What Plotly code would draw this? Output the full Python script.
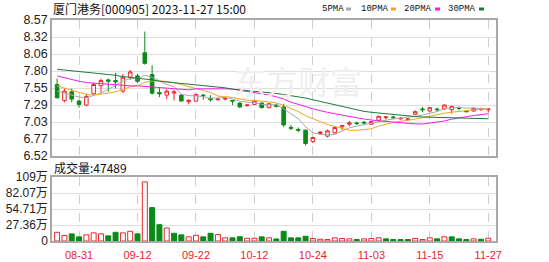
import plotly.graph_objects as go

# ---------------- data ----------------
dates = ["08-28", "08-29", "08-30", "08-31", "09-01", "09-04", "09-05", "09-06", "09-07", "09-08",
         "09-11", "09-12", "09-13", "09-14", "09-15", "09-18", "09-19", "09-20", "09-21", "09-22",
         "09-25", "09-26", "09-27", "09-28", "10-09", "10-10", "10-11", "10-12", "10-13", "10-16",
         "10-17", "10-18", "10-19", "10-20", "10-23", "10-24", "10-25", "10-26", "10-27", "10-30",
         "10-31", "11-01", "11-02", "11-03", "11-06", "11-07", "11-08", "11-09", "11-10", "11-13",
         "11-14", "11-15", "11-16", "11-17", "11-20", "11-21", "11-22", "11-23", "11-24", "11-27"]

opens = [7.60, 7.36, 7.49, 7.35, 7.29, 7.46, 7.58, 7.67, 7.66, 7.50,
         7.71, 7.73, 8.08, 7.75, 7.48, 7.44, 7.47, 7.44, 7.34, 7.35,
         7.44, 7.39, 7.37, 7.38, 7.36, 7.32, 7.28, 7.30, 7.32, 7.25,
         7.29, 7.26, 6.95, 6.92, 6.91, 6.74, 6.86, 6.82, 6.87, 6.96,
         7.00, 7.02, 7.03, 7.00, 7.06, 7.10, 7.11, 7.08, 7.07, 7.15,
         7.23, 7.20, 7.23, 7.23, 7.22, 7.25, 7.20, 7.20, 7.22, 7.22]
highs = [7.69, 7.54, 7.54, 7.37, 7.46, 7.63, 7.69, 7.69, 7.78, 7.76,
         7.82, 7.76, 8.40, 7.89, 7.56, 7.53, 7.52, 7.45, 7.38, 7.46,
         7.46, 7.44, 7.39, 7.40, 7.36, 7.33, 7.30, 7.36, 7.33, 7.32,
         7.31, 7.31, 6.99, 6.95, 6.92, 6.81, 6.90, 6.92, 6.97, 6.98,
         7.05, 7.04, 7.05, 7.05, 7.13, 7.11, 7.13, 7.11, 7.09, 7.21,
         7.26, 7.26, 7.25, 7.30, 7.28, 7.27, 7.21, 7.25, 7.25, 7.24]
lows = [7.39, 7.33, 7.33, 7.25, 7.27, 7.45, 7.47, 7.49, 7.54, 7.47,
        7.67, 7.62, 7.90, 7.45, 7.41, 7.38, 7.36, 7.35, 7.30, 7.34,
        7.37, 7.34, 7.36, 7.36, 7.29, 7.25, 7.27, 7.29, 7.24, 7.24,
        7.25, 6.96, 6.91, 6.88, 6.68, 6.72, 6.84, 6.80, 6.85, 6.91,
        6.97, 6.99, 7.00, 6.99, 7.05, 7.07, 7.08, 7.07, 7.05, 7.14,
        7.18, 7.19, 7.19, 7.22, 7.16, 7.21, 7.18, 7.19, 7.20, 7.18]
closes = [7.40, 7.50, 7.38, 7.30, 7.42, 7.60, 7.66, 7.65, 7.64, 7.71,
          7.79, 7.65, 7.92, 7.47, 7.46, 7.50, 7.49, 7.35, 7.36, 7.45,
          7.43, 7.37, 7.38, 7.39, 7.35, 7.26, 7.29, 7.35, 7.25, 7.31,
          7.27, 6.99, 6.94, 6.91, 6.71, 6.80, 6.88, 6.90, 6.95, 6.98,
          7.02, 7.01, 7.02, 7.04, 7.12, 7.11, 7.10, 7.09, 7.08, 7.19,
          7.22, 7.25, 7.22, 7.29, 7.27, 7.24, 7.19, 7.24, 7.23, 7.23]
prev_close = 7.38  # close of the day before the first bar (estimated)

# volume in 手
volumes = [149000, 93000, 122000, 71000, 105000, 139000, 122000, 88000, 149000, 139000,
           166000, 122000, 1010000, 571000, 279000, 223000, 132000, 105000, 71000, 98000,
           71000, 132000, 110000, 54000, 54000, 73000, 47000, 47000, 71000, 54000,
           35000, 166000, 54000, 54000, 81000, 42000, 30000, 25000, 54000, 42000,
           37000, 25000, 37000, 42000, 54000, 37000, 25000, 25000, 25000, 42000,
           25000, 54000, 37000, 71000, 71000, 37000, 25000, 37000, 30000, 47489]

# moving-average values before a full window exists
ma5_head = [7.50, 7.47, 7.44, 7.41]
ma10_head = [7.58, 7.55, 7.52, 7.48, 7.45, 7.44, 7.45, 7.47, 7.49]
ma20_head = [7.73, 7.70, 7.67, 7.65, 7.63, 7.62, 7.61, 7.60, 7.59, 7.58,
             7.58, 7.58, 7.57, 7.57, 7.56, 7.55, 7.54, 7.53, 7.52]
ma30_head = [7.83, 7.82, 7.81, 7.80, 7.78, 7.77, 7.76, 7.75, 7.74, 7.72,
             7.71, 7.70, 7.68, 7.67, 7.65, 7.64, 7.63, 7.62, 7.61, 7.60,
             7.58, 7.57, 7.56, 7.55, 7.53, 7.52, 7.51, 7.50, 7.48]

date_ticks = ["08-31", "09-12", "09-22", "10-12", "10-24", "11-03", "11-15", "11-27"]
price_tick_text = ["6.52", "6.77", "7.03", "7.29", "7.55", "7.80", "8.06", "8.32", "8.57"]
price_min, price_max = 6.52, 8.575
vol_tick_text = ["0", "27.36万", "54.71万", "82.07万", "109万"]
vol_max = 1094400
ma_names = ["5PMA", "10PMA", "20PMA", "30PMA"]
title_text = "厦门港务[000905] 2023-11-27 15:00"
last_vol_text = "成交量:47489"

# ---------------- derived ----------------
def moving_avg(vals, n, head):
    out = list(head)
    for i in range(len(head), len(vals)):
        out.append(sum(vals[i - n + 1:i + 1]) / n)
    return out

ma5 = moving_avg(closes, 5, ma5_head)
ma10 = moving_avg(closes, 10, ma10_head)
ma20 = moving_avg(closes, 20, ma20_head)
ma30 = moving_avg(closes, 30, ma30_head)

RED = "#e8262a"
GREEN = "#0b8a18"
ma_colors = ["#a8a8a8", "#f5a623", "#f01cf0", "#1d7a3a"]

prevs = [prev_close] + closes[:-1]
vol_up = [c >= p for c, p in zip(closes, prevs)]
vol_fill = ["#ffffff" if u else GREEN for u in vol_up]
vol_line = [RED if u else GREEN for u in vol_up]

fig = go.Figure()

for name, vals, col in zip(ma_names, [ma5, ma10, ma20, ma30], ma_colors):
    fig.add_trace(go.Scatter(x=dates, y=vals, mode="lines", name=name,
                             line=dict(color=col, width=1), hoverinfo="skip",
                             xaxis="x", yaxis="y", showlegend=False))

fig.add_trace(go.Candlestick(
    x=dates, open=opens, high=highs, low=lows, close=closes,
    increasing=dict(line=dict(color=RED, width=1), fillcolor="#ffffff"),
    decreasing=dict(line=dict(color=GREEN, width=1), fillcolor=GREEN),
    whiskerwidth=0, xaxis="x", yaxis="y", showlegend=False))

fig.add_trace(go.Bar(
    x=dates, y=volumes, width=0.68,
    marker=dict(color=vol_fill, line=dict(color=vol_line, width=1)),
    xaxis="x2", yaxis="y2", showlegend=False))

# ---------------- layout ----------------
L, R, T, B = 52, 53, 20, 21
W, H = 549, 262
ph = H - T - B
pw = W - L - R

def px_to_paper_x(px):
    return (px - L) / pw

def py_to_paper_y(py):
    return (H - B - py) / ph

price_bottom = py_to_paper_y(156)
vol_top = py_to_paper_y(177)

price_step = (price_max - price_min) / 8
price_tickvals = [price_min + k * price_step for k in range(9)]
vol_tickvals = [vol_max * k / 4 for k in range(5)]

frame = dict(showline=True, mirror=True, linecolor="#a8a8a8", linewidth=1.5, automargin=False)
xcommon = dict(type="category", range=[-0.7, 60.06], tickmode="array", tickvals=date_ticks,
               showgrid=True, gridcolor="#cfcfcf", griddash="dash", gridwidth=1,
               ticks="", zeroline=False, fixedrange=True, **frame)

fig.update_layout(
    width=W, height=H,
    margin=dict(l=L, r=R, t=T, b=B, pad=0, autoexpand=False),
    paper_bgcolor="#ffffff", plot_bgcolor="#ffffff",
    showlegend=False,
    xaxis=dict(domain=[0, 1], anchor="y", showticklabels=False,
               rangeslider=dict(visible=False), **xcommon),
    xaxis2=dict(domain=[0, 1], anchor="y2", showticklabels=True, ticklabelstandoff=3,
                tickfont=dict(family="Liberation Sans, Arial", size=11, color=RED), **xcommon),
    yaxis=dict(domain=[price_bottom, 1], range=[price_min, price_max], tickmode="array",
               tickvals=price_tickvals, ticktext=price_tick_text,
               tickfont=dict(family="Liberation Sans, Arial", size=12.5, color="#222222"),
               gridcolor="#dedede", gridwidth=1, zeroline=False, ticks="", fixedrange=True, **frame),
    yaxis2=dict(domain=[0, vol_top], range=[0, vol_max], tickmode="array",
                tickvals=vol_tickvals, ticktext=vol_tick_text,
                tickfont=dict(family="Liberation Sans, Noto Sans CJK SC", size=12, color="#222222"),
                gridcolor="#dedede", gridwidth=1, zeroline=False, ticks="", fixedrange=True, **frame),
    bargap=0.3,
)

ann = []
# watermark
ann.append(dict(text="东方财富", x=px_to_paper_x(298), y=py_to_paper_y(80), xref="paper", yref="paper",
                showarrow=False, font=dict(family="Noto Sans CJK SC", size=32, color="#efefef"),
                xanchor="center", yanchor="middle"))
# title
ann.append(dict(text=title_text, x=px_to_paper_x(51), y=py_to_paper_y(9), xref="paper", yref="paper",
                showarrow=False, font=dict(family="Noto Sans CJK SC", size=12, color="#111111"),
                xanchor="left", yanchor="middle"))
# legend
leg_text_x = [320, 359, 402, 446]
leg_mark_x = [346, 391, 435, 479]
shapes = []
for name, col, tx, mx in zip(ma_names, ma_colors, leg_text_x, leg_mark_x):
    ann.append(dict(text=name, x=px_to_paper_x(tx), y=py_to_paper_y(9), xref="paper", yref="paper",
                    showarrow=False, font=dict(family="Liberation Mono", size=9, color="#111111"),
                    xanchor="left", yanchor="middle"))
    shapes.append(dict(type="rect", xref="paper", yref="paper",
                       x0=px_to_paper_x(mx), x1=px_to_paper_x(mx + 5),
                       y0=py_to_paper_y(10.5), y1=py_to_paper_y(7.5),
                       fillcolor=col, line=dict(width=0)))
# volume label
ann.append(dict(text=last_vol_text, x=px_to_paper_x(52), y=py_to_paper_y(167), xref="paper", yref="paper",
                showarrow=False, font=dict(family="Noto Sans CJK SC", size=12, color="#111111"),
                xanchor="left", yanchor="middle"))
fig.update_layout(annotations=ann, shapes=shapes)

fig.write_html("out.html")
